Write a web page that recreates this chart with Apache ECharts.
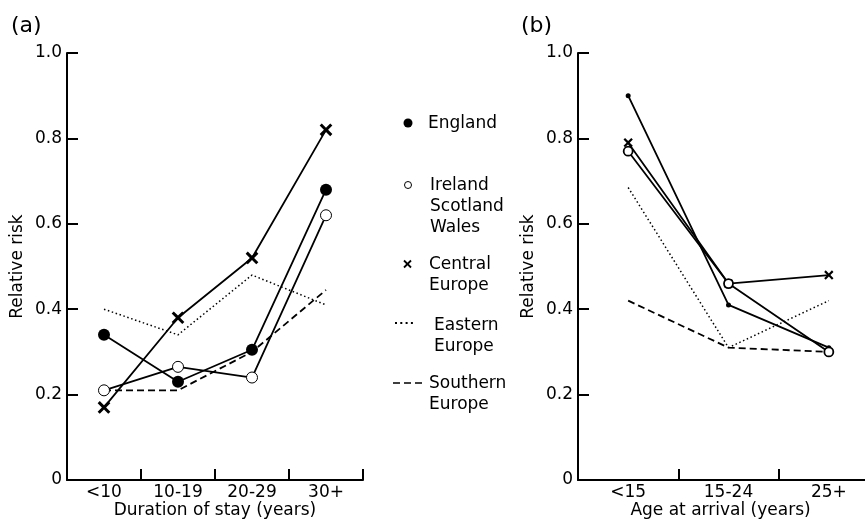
<!DOCTYPE html>
<html>
<head>
<meta charset="utf-8">
<script src="https://cdn.jsdelivr.net/npm/echarts@6/dist/echarts.min.js"></script>
<style>
html,body{margin:0;padding:0;background:#fff;}
#c{width:865px;height:519px;}
</style>
</head>
<body>
<div id="c"></div>
<script>
// ---- data ----
const catsA = ['<10', '10-19', '20-29', '30+'];
const englandA = [0.34, 0.23, 0.305, 0.68];
const irelandA = [0.21, 0.265, 0.24, 0.62];
const centralA = [0.17, 0.38, 0.52, 0.82];
const easternA = [0.40, 0.34, 0.48, 0.41];
const southernA = [0.21, 0.21, 0.30, 0.445];

const catsB = ['<15', '15-24', '25+'];
const englandB = [0.90, 0.41, 0.31];
const irelandB = [0.77, 0.46, 0.30];
const centralB = [0.79, 0.46, 0.48];
const easternB = [0.685, 0.31, 0.42];
const southernB = [0.42, 0.31, 0.30];

const yMin = 0, yMax = 1.0, yStep = 0.2;
const legendNames = ['England', 'Ireland\nScotland\nWales', 'Central\nEurope', 'Eastern\nEurope', 'Southern\nEurope'];

// ---- styles ----
const FONT = 'DejaVu Sans';
const BLACK = '#000';
const xPath = 'path://M4,0H6V4H10V6H6V10H4V6H0V4H4Z';

function yAxis(idx) {
  return {
    type: 'value', gridIndex: idx, min: yMin, max: yMax, interval: yStep,
    name: 'Relative risk', nameLocation: 'middle', nameGap: 41, nameMoveOverlap: false,
    nameTextStyle: {fontFamily: FONT, fontSize: 17, color: BLACK},
    axisLine: {show: true, lineStyle: {color: BLACK, width: 2}},
    axisTick: {show: true, inside: true, length: 11, lineStyle: {color: BLACK, width: 2}},
    axisLabel: {fontFamily: FONT, fontSize: 17, color: BLACK, margin: 5,
      formatter: v => v === 0 ? '0' : v.toFixed(1)},
    splitLine: {show: false}
  };
}
function xAxis(idx, cats, name, namePad) {
  return {
    type: 'category', gridIndex: idx, data: cats, boundaryGap: true,
    name: name, nameLocation: 'middle', nameGap: 22, nameMoveOverlap: false,
    nameTextStyle: {fontFamily: FONT, fontSize: 17, color: BLACK, padding: namePad},
    axisLine: {show: true, lineStyle: {color: BLACK, width: 2}},
    axisTick: {show: true, inside: true, length: 11, lineStyle: {color: BLACK, width: 2}},
    axisLabel: {fontFamily: FONT, fontSize: 17, color: BLACK, margin: 4},
    splitLine: {show: false}
  };
}
function series(idx, data, kind, big) {
  const s = {
    type: 'line', xAxisIndex: idx, yAxisIndex: idx, data: data,
    lineStyle: {color: BLACK, width: 1.8, type: 'solid'},
    itemStyle: {color: BLACK, borderColor: BLACK, borderWidth: 0},
    symbol: 'none', animation: false, z: 3, silent: true
  };
  if (kind === 'filled') {
    s.symbol = 'circle'; s.symbolSize = big ? 12 : 5;
    s.itemStyle = {color: BLACK, borderColor: BLACK, borderWidth: 0};
    s.z = 4;
  } else if (kind === 'open') {
    s.symbol = 'circle'; s.symbolSize = big ? 11 : 9;
    s.itemStyle = {color: '#fff', borderColor: BLACK, borderWidth: big ? 1 : 1.8};
    s.z = 5;
  } else if (kind === 'cross') {
    s.symbol = xPath; s.symbolRotate = 45; s.symbolSize = big ? 15 : 11;
    s.itemStyle = {color: BLACK, borderWidth: 0};
    s.z = 4;
  } else if (kind === 'dotted') {
    s.lineStyle = {color: BLACK, width: 1.5, type: [1.5, 2.6]};
    s.z = 2;
  } else if (kind === 'dashed') {
    s.lineStyle = {color: BLACK, width: 1.8, type: [7, 4]};
    s.z = 2;
  }
  s.showSymbol = s.symbol !== 'none';
  return s;
}

// ---- legend (graphic) ----
const legendText = (x, y, t) => ({type: 'text', left: x, top: y - 10,
  style: {text: t, fontFamily: FONT, fontSize: 17, fill: BLACK, lineHeight: 21}});
const graphic = [
  {type: 'text', left: 11, top: 15, style: {text: '(a)', fontFamily: FONT, fontSize: 22, fill: BLACK}},
  {type: 'text', left: 521, top: 15, style: {text: '(b)', fontFamily: FONT, fontSize: 22, fill: BLACK}},
  // England
  {type: 'circle', shape: {cx: 408, cy: 123, r: 4.5}, style: {fill: BLACK}},
  legendText(428, 123, legendNames[0]),
  // Ireland
  {type: 'circle', shape: {cx: 408, cy: 185, r: 3.5}, style: {fill: '#fff', stroke: BLACK, lineWidth: 1}},
  legendText(430, 185, legendNames[1]),
  // Central
  {type: 'group', children: [
    {type: 'line', shape: {x1: 404, y1: 260.5, x2: 411, y2: 267.5}, style: {stroke: BLACK, lineWidth: 1.8}},
    {type: 'line', shape: {x1: 411, y1: 260.5, x2: 404, y2: 267.5}, style: {stroke: BLACK, lineWidth: 1.8}}
  ]},
  legendText(429, 264, legendNames[2]),
  // Eastern
  {type: 'line', shape: {x1: 395, y1: 323, x2: 413, y2: 323}, style: {stroke: BLACK, lineWidth: 2, lineDash: [2, 3.3]}},
  legendText(434, 325, legendNames[3]),
  // Southern
  {type: 'line', shape: {x1: 393, y1: 383, x2: 422, y2: 383}, style: {stroke: BLACK, lineWidth: 1.6, lineDash: [7, 4]}},
  legendText(429, 383, legendNames[4])
];

const chart = echarts.init(document.getElementById('c'), null, {renderer: 'canvas'});
chart.setOption({
  backgroundColor: '#fff',
  animation: false,
  grid: [
    {left: 67, top: 53, width: 296, height: 427, containLabel: false, outerBoundsMode: 'none'},
    {left: 578, top: 53, width: 301, height: 427, containLabel: false, outerBoundsMode: 'none'}
  ],
  xAxis: [
    xAxis(0, catsA, 'Duration of stay (years)', [0, 0, 0, 0]),
    xAxis(1, catsB, 'Age at arrival (years)', [0, 16, 0, 0])
  ],
  yAxis: [yAxis(0), yAxis(1)],
  graphic: graphic,
  series: [
    series(0, easternA, 'dotted', true),
    series(0, southernA, 'dashed', true),
    series(0, englandA, 'filled', true),
    series(0, irelandA, 'open', true),
    series(0, centralA, 'cross', true),
    series(1, easternB, 'dotted', false),
    series(1, southernB, 'dashed', false),
    series(1, englandB, 'filled', false),
    series(1, irelandB, 'open', false),
    series(1, centralB, 'cross', false)
  ]
});
</script>
</body>
</html>
